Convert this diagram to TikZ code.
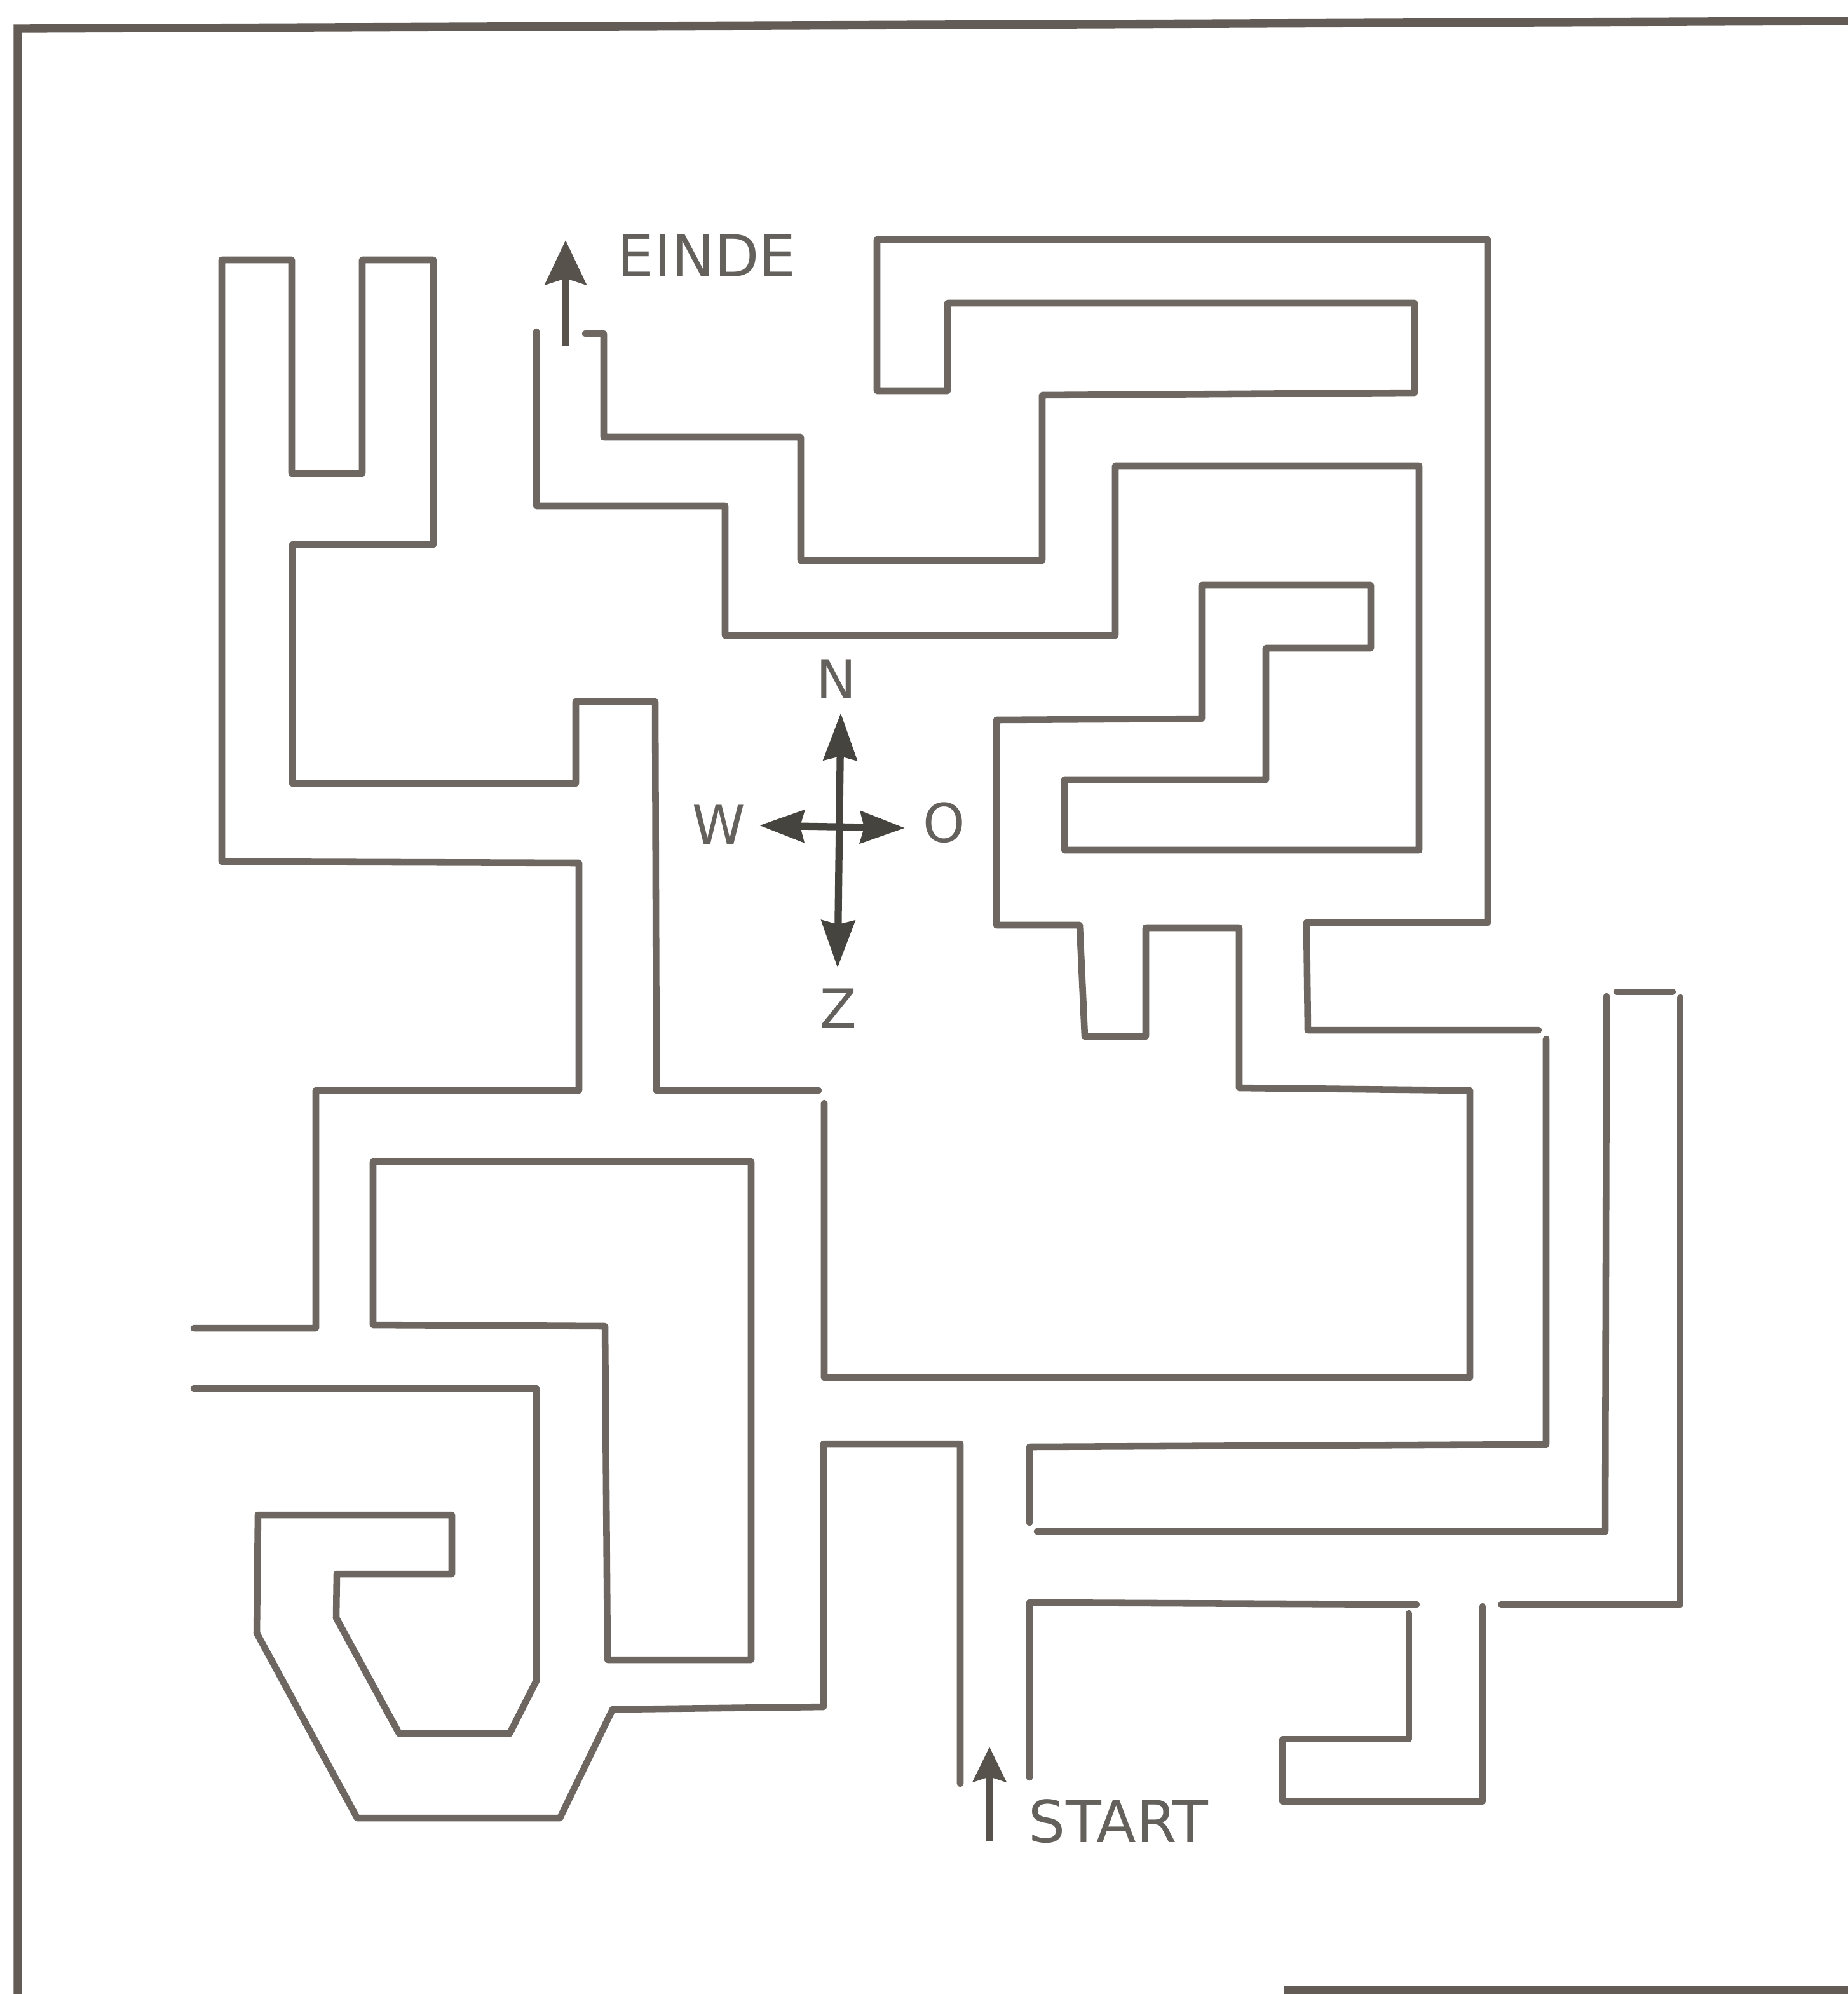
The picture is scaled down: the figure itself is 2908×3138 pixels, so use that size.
\documentclass[tikz,border=0pt]{standalone}
\usepackage{fontspec}
\setmainfont{DejaVu Sans}
\usetikzlibrary{arrows.meta}
\definecolor{ink}{RGB}{110,102,96}
\definecolor{darkink}{RGB}{70,68,62}
\definecolor{txt}{RGB}{100,96,92}
\begin{document}
\begin{tikzpicture}[x=0.01cm,y=-0.01cm,
  wall/.style={draw=ink,line width=3pt,line join=round,line cap=round},
  bordr/.style={draw=ink!90!black,line width=3.8pt},
  lbl/.style={text=txt,inner sep=0pt,font=\fontsize{26}{30}\selectfont},
  clbl/.style={text=txt,inner sep=0pt,font=\fontsize{24}{28}\selectfont},
  comp/.style={draw=darkink,line width=3.2pt},
  ptr/.style={draw=ink!80!black,line width=3pt}]
\useasboundingbox (0,0) rectangle (2908,3138);
\fill[white] (0,0) rectangle (2908,3138);
% frame
\draw[bordr] (28,3138) -- (28,45) -- (2908,33);
\draw[bordr] (2020,3133) -- (2908,3133);
% central wall
\draw[wall] (305,2090) -- (497,2090) -- (497,1716) -- (911,1716) -- (911,1358) -- (349,1356) -- (349,409) -- (459,409) -- (459,745) -- (570,745) -- (570,409) -- (682,409) -- (682,857) -- (460,857) -- (460,1233) -- (906,1233) -- (906,1104) -- (1031,1104) -- (1033,1716) -- (1288,1716);
\draw[wall] (1297,1736) -- (1297,2168) -- (2313,2168) -- (2313,1716) -- (1950,1712) -- (1950,1460) -- (1803,1460) -- (1803,1631) -- (1707,1631) -- (1699,1456) -- (1568,1456) -- (1568,1133) -- (1891,1131) -- (1891,921) -- (2157,921) -- (2157,1020) -- (1992,1020) -- (1992,1227) -- (1675,1227) -- (1675,1338) -- (2233,1338) -- (2233,733) -- (1755,733) -- (1755,1000) -- (1141,1000) -- (1141,796) -- (844,796) -- (844,522);
% outer right wall
\draw[wall] (921,525) -- (950,525) -- (950,688) -- (1260,688) -- (1260,882) -- (1640,882) -- (1640,622) -- (2226,618) -- (2226,477) -- (1491,477) -- (1491,615) -- (1380,615) -- (1380,377) -- (2341,377) -- (2341,1452) -- (2056,1452) -- (2058,1621) -- (2421,1621);
\draw[wall] (2433,1635) -- (2433,2273) -- (1620,2277) -- (1620,2396);
\draw[wall] (1632,2410) -- (2526,2410) -- (2528,1568);
\draw[wall] (2544,1561) -- (2632,1561);
\draw[wall] (2644,1570) -- (2644,2525) -- (2362,2525);
\draw[wall] (2333,2528) -- (2333,2835) -- (2018,2835) -- (2018,2737) -- (2217,2737) -- (2217,2539);
\draw[wall] (1620,2797) -- (1620,2522) -- (2229,2525);
% hook wall
\draw[wall] (305,2185) -- (844,2185) -- (844,2645) -- (802,2728) -- (628,2728) -- (529,2546) -- (530,2477) -- (711,2477) -- (711,2384) -- (406,2384) -- (404,2570) -- (562,2861) -- (881,2861) -- (964,2690) -- (1296,2686) -- (1296,2272) -- (1511,2272) -- (1511,2807);
% inner box
\draw[wall] (587,1828) -- (1182,1828) -- (1182,2612) -- (956,2612) -- (952,2087) -- (587,2085) -- cycle;
% EINDE
\coordinate (eT) at (890,378);
\coordinate (eB) at (890,544);
\draw[ptr,-{Stealth[length=0.7cm,width=0.65cm,inset=0.1cm]}] (eB) -- (eT);
\node[lbl] (einde) at (1112,402) {EINDE};
% START
\coordinate (sT) at (1557,2749);
\coordinate (sB) at (1557,2898);
\draw[ptr,-{Stealth[length=0.55cm,width=0.52cm,inset=0.08cm]}] (sB) -- (sT);
\node[lbl] (start) at (1760,2866) {START};
% compass
\coordinate (cN) at (1323,1122);
\coordinate (cS) at (1318,1523);
\coordinate (cW) at (1195,1299);
\coordinate (cE) at (1424,1303);
\draw[comp,{Stealth[length=0.74cm,width=0.52cm,inset=0.06cm]}-{Stealth[length=0.74cm,width=0.52cm,inset=0.06cm]}] (cS) -- (cN);
\draw[comp,{Stealth[length=0.7cm,width=0.5cm,inset=0.06cm]}-{Stealth[length=0.7cm,width=0.5cm,inset=0.06cm]}] (cW) -- (cE);
\node[clbl] (nN) at (1316,1069) {N};
\node[clbl] (nW) at (1131,1298) {W};
\node[clbl] (nO) at (1486,1295) {O};
\node[clbl] (nZ) at (1319,1587) {Z};
\end{tikzpicture}
\end{document}
